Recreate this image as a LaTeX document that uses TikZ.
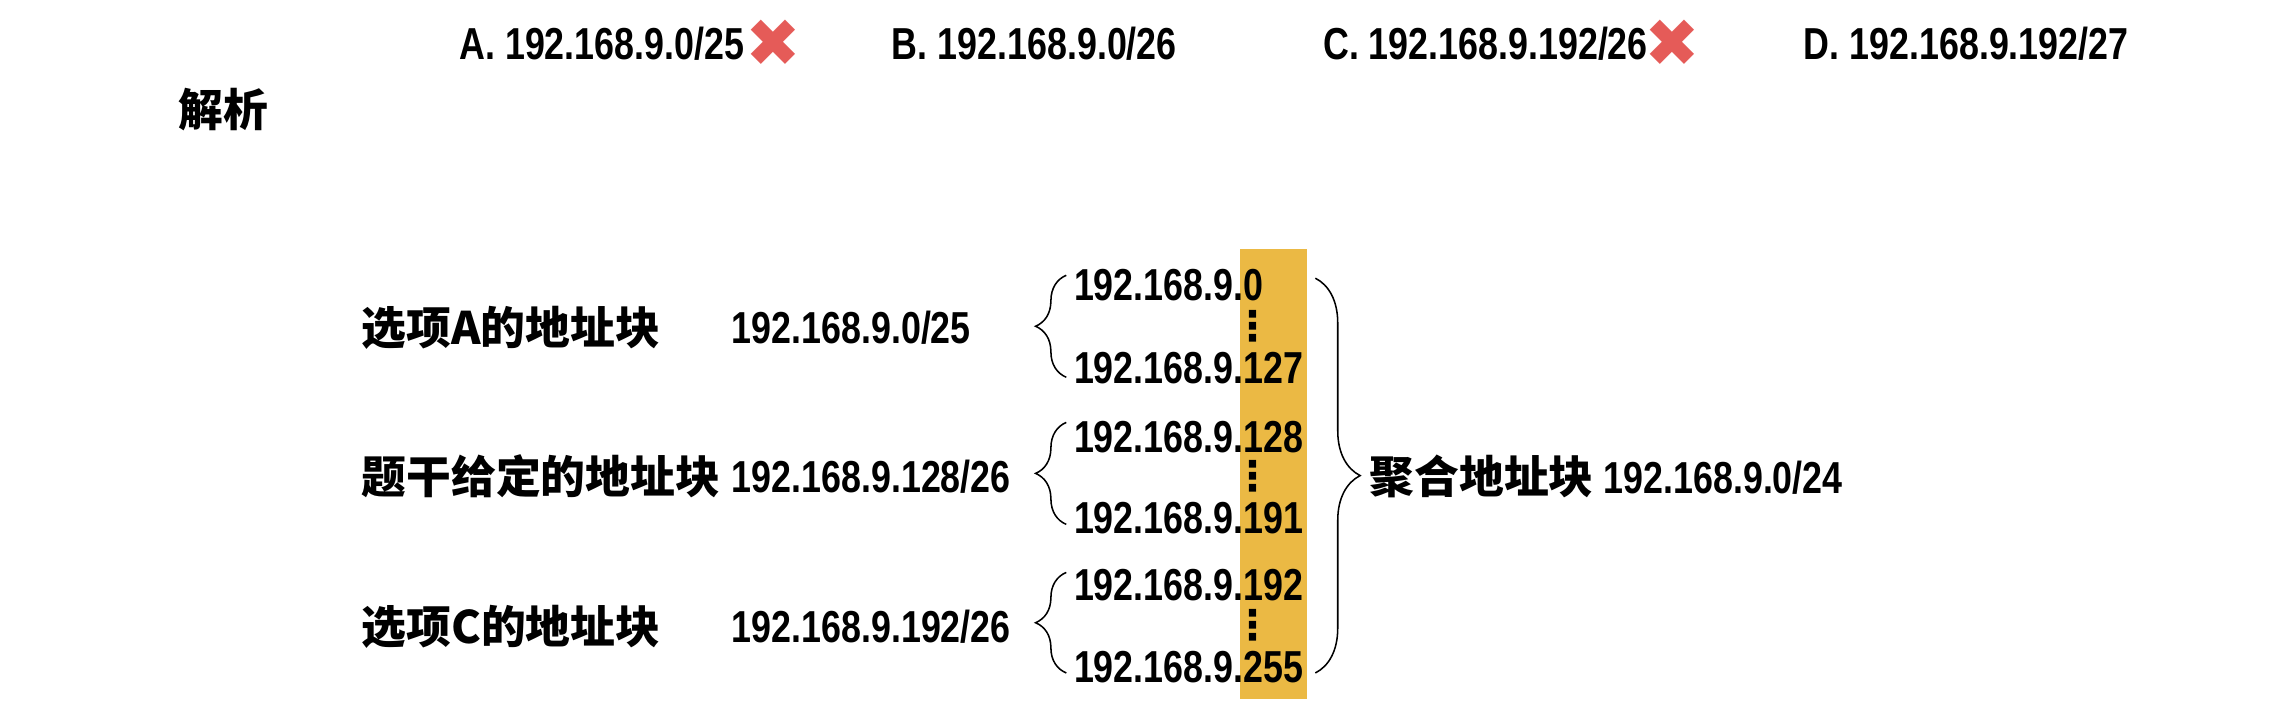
\documentclass[tikz,border=0pt]{standalone}
\usepackage{fontspec}
\setmainfont{Liberation Sans}[FakeStretch=0.8]
\newfontfamily\cjk{Noto Sans CJK SC}
\newfontfamily\symfont{DejaVu Sans}
\usetikzlibrary{decorations.pathreplacing}
\definecolor{barorange}{RGB}{235,185,68}
\definecolor{crossred}{RGB}{229,91,88}

\begin{document}
\begin{tikzpicture}[x=0.02cm,y=-0.02cm]
            \tikzstyle{every node}+=[inner sep=0pt, anchor=west, font=\fontsize{17.5}{21}\selectfont\bfseries]
            \tikzstyle{smallbrace}=[decorate, decoration={brace, amplitude=12pt}, line width=0.6pt]
            \tikzstyle{bigbrace}=[decorate, decoration={brace, amplitude=17.5pt}, line width=0.6pt]
            \tikzstyle{vdots}=[anchor=center, font=\fontsize{16}{18}\selectfont\bfseries\symfont]
            \tikzstyle{wrong}=[anchor=center, text=crossred, font=\fontsize{26}{28}\selectfont\bfseries\symfont]
            \useasboundingbox (0,0) rectangle (1568,492);
            % options
            \draw (315, 30) node (optA) {A. 192.168.9.0/25};
            \draw (531, 30) node[wrong] (crossA) {✖};
            \draw (612, 30) node (optB) {B. 192.168.9.0/26};
            \draw (908, 30) node (optC) {C. 192.168.9.192/26};
            \draw (1148, 30) node[wrong] (crossC) {✖};
            \draw (1238, 30) node (optD) {D. 192.168.9.192/27};
            \draw (122, 75) node (jiexi) {\cjk 解析};
            % highlighted last byte
            \fill [barorange] (851, 171) rectangle (897, 480);
            % blocks
            \draw (248, 225) node (lblA) {\cjk 选项A的地址块};
            \draw (248, 327) node (lblQ) {\cjk 题干给定的地址块};
            \draw (248, 430) node (lblC) {\cjk 选项C的地址块};
            \draw (502, 225) node (netA) {192.168.9.0/25};
            \draw (502, 327) node (netQ) {192.168.9.128/26};
            \draw (502, 430) node (netC) {192.168.9.192/26};
            \draw (737, 196) node (a0) {192.168.9.0};
            \draw (737, 253) node (a127) {192.168.9.127};
            \draw (737, 300) node (a128) {192.168.9.128};
            \draw (737, 356) node (a191) {192.168.9.191};
            \draw (737, 402) node (a192) {192.168.9.192};
            \draw (737, 458) node (a255) {192.168.9.255};
            \draw (860, 224) node[vdots] (dA) {⋮};
            \draw (860, 327) node[vdots] (dQ) {⋮};
            \draw (860, 429) node[vdots] (dC) {⋮};
            \draw [smallbrace] (732, 259) -- (732, 189);
            \draw [smallbrace] (732, 360) -- (732, 290);
            \draw [smallbrace] (732, 462) -- (732, 393);
            \draw [bigbrace] (903, 191) -- (903, 462);
            \draw (940, 327) node (agg) {{\cjk 聚合地址块} 192.168.9.0/24};
        \end{tikzpicture}
\end{document}
